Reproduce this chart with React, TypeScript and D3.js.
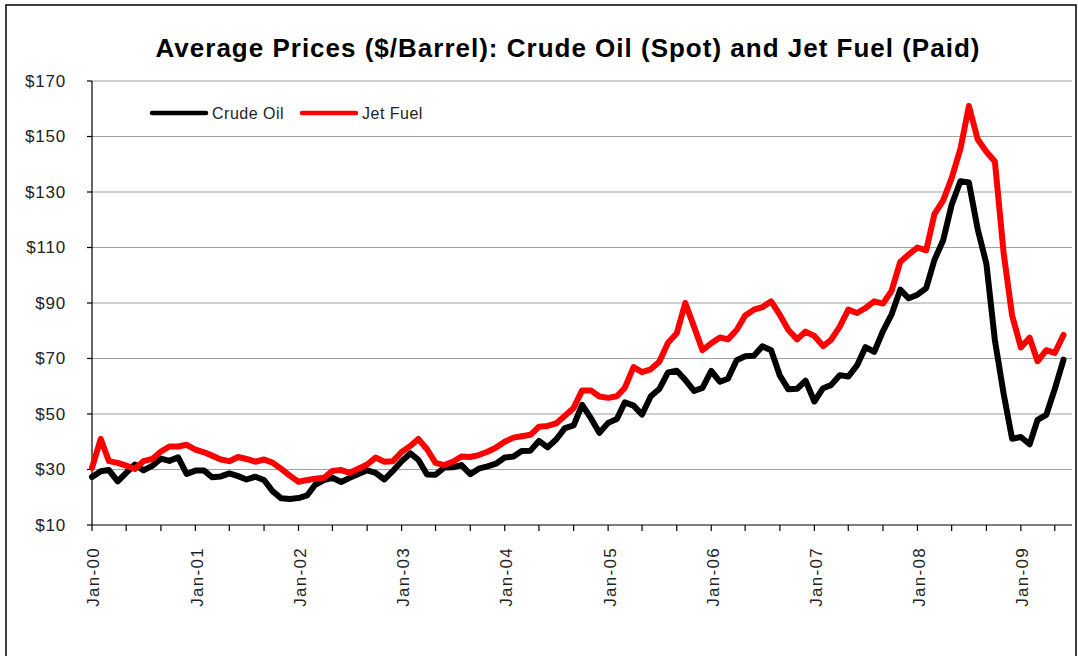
import React from 'react';
import * as d3 from 'd3';

// Monthly averages, Jan-2000 .. Jun-2009 ($/barrel)
const crudeOil = [
  27.3, 29.4, 29.8, 25.7, 28.8, 31.8, 29.7, 31.3, 33.9, 33.1, 34.4, 28.4,
  29.6, 29.6, 27.2, 27.5, 28.6, 27.6, 26.4, 27.4, 26.2, 22.2, 19.6, 19.4,
  19.7, 20.7, 24.5, 26.2, 27.0, 25.5, 27.0, 28.4, 29.7, 28.8, 26.4, 29.5,
  33.0, 35.8, 33.5, 28.2, 28.1, 30.7, 30.8, 31.6, 28.3, 30.3, 31.1, 32.1,
  34.3, 34.7, 36.7, 36.8, 40.3, 38.0, 40.8, 44.9, 45.9, 53.3, 48.5, 43.2,
  46.8, 48.2, 54.2, 53.0, 49.8, 56.4, 59.0, 65.0, 65.6, 62.3, 58.3, 59.4,
  65.5, 61.6, 62.7, 69.4, 70.8, 71.0, 74.4, 73.0, 63.8, 58.9, 59.1, 62.0,
  54.5, 59.3, 60.4, 64.0, 63.5, 67.5, 74.1, 72.4, 79.9, 85.8, 94.8, 91.7,
  93.0, 95.4, 105.5, 112.6, 125.4, 133.9, 133.4, 116.7, 104.1, 76.6, 57.3, 41.1,
  41.7, 39.1, 47.9, 49.7, 59.0, 69.6,
];

const jetFuel = [
  30.6, 41.0, 33.0, 32.4, 31.4, 30.2, 33.0, 33.8, 36.5, 38.3, 38.3, 38.9,
  37.2, 36.2, 35.0, 33.6, 33.0, 34.5, 33.8, 32.8, 33.6, 32.5, 30.2, 27.8,
  25.6, 26.2, 26.7, 27.0, 29.5, 29.8, 28.8, 30.3, 31.8, 34.3, 32.8, 33.0,
  36.3, 38.5, 41.0, 37.3, 32.4, 31.6, 32.8, 34.7, 34.5, 35.2, 36.4, 37.9,
  40.0, 41.5, 42.0, 42.5, 45.4, 45.7, 46.6, 49.4, 52.2, 58.5, 58.5, 56.3,
  55.8, 56.4, 59.4, 66.9, 65.1, 66.1, 68.8, 75.7, 79.1, 90.0, 81.5, 73.0,
  75.5, 77.6, 76.9, 80.3, 85.5, 87.6, 88.5, 90.6, 85.7, 80.3, 76.9, 79.7,
  78.1, 74.5, 76.7, 81.5, 87.6, 86.4, 88.2, 90.6, 89.8, 94.3, 104.8, 107.5,
  110.0, 109.0, 122.0, 127.0, 135.0, 145.5, 161.0, 149.0, 144.5, 141.0, 108.0, 85.5,
  74.0, 77.5, 69.0, 73.0, 72.0, 78.5,
];

const startYear = 2000;
const dates = crudeOil.map((_, i) => new Date(startYear, i, 1));
const yTicks = [10, 30, 50, 70, 90, 110, 130, 150, 170];
const seriesNames = ['Crude Oil', 'Jet Fuel'];
const seriesColors = ['#000000', '#ff0000'];
const title = 'Average Prices ($/Barrel): Crude Oil (Spot) and Jet Fuel (Paid)';

const FONT = '"Liberation Sans", Arial, sans-serif';

export default function App() {
  const W = 1078;
  const H = 656;
  const left = 92, right = 1072, top = 81, bottom = 525;

  const x = d3.scaleTime()
    .domain([new Date(startYear, 0, 1), new Date(2009, 6, 1)])
    .range([left, right]);
  const y = d3.scaleLinear().domain([10, 170]).range([bottom, top]);

  const monthTicks = d3.timeMonth.every(4)!.range(new Date(startYear, 0, 1), new Date(2009, 6, 1));
  const fmt = d3.timeFormat('%b-%y');

  const line = d3.line<number>()
    .x((_, i) => x(dates[i]))
    .y((d) => y(d));

  const series = [crudeOil, jetFuel];

  return (
    <svg width={W} height={H} style={{ position: 'absolute', left: 0, top: 0, background: '#fff' }}
      fontFamily={FONT}>
      <rect x={6} y={5} width={1070} height={H + 10} fill="#fff" stroke="#000" strokeWidth={1.5} />
      <text x={568} y={57} textAnchor="middle" fontSize={26} fontWeight="bold" letterSpacing={1}>{title}</text>

      {/* gridlines */}
      {yTicks.filter((t) => t !== 10).map((t) => (
        <line key={'g' + t} x1={left} x2={right} y1={y(t)} y2={y(t)} stroke="#a0a0a0" strokeWidth={1.2} />
      ))}

      {/* y axis */}
      <line x1={left} x2={left} y1={top} y2={bottom} stroke="#000" strokeWidth={1.2} />
      {yTicks.map((t) => (
        <g key={'y' + t}>
          <line x1={left - 5} x2={left} y1={y(t)} y2={y(t)} stroke="#000" strokeWidth={1.2} />
          <text x={66} y={y(t)} dy="0.35em" textAnchor="end" fontSize={17} letterSpacing={0.8} fill="#222">${t}</text>
        </g>
      ))}

      {/* x axis */}
      <line x1={left} x2={right} y1={bottom} y2={bottom} stroke="#000" strokeWidth={1.2} />
      {monthTicks.map((d) => (
        <g key={'x' + d.getTime()}>
          <line x1={x(d)} x2={x(d)} y1={bottom} y2={bottom + 6} stroke="#000" strokeWidth={1.2} />
          {d.getMonth() === 0 && (
            <text transform={`translate(${x(d) + 3},${bottom + 22}) rotate(-90)`} textAnchor="end"
              dominantBaseline="middle" fontSize={17} letterSpacing={1.3} fill="#222">{fmt(d)}</text>
          )}
        </g>
      ))}

      {/* series */}
      {series.map((s, k) => (
        <path key={'s' + k} d={line(s) || ''} fill="none" stroke={seriesColors[k]} strokeWidth={6}
          strokeLinejoin="round" strokeLinecap="round" />
      ))}

      {/* legend */}
      {seriesNames.map((n, k) => {
        const lx = [152, 302][k];
        return (
          <g key={'l' + k}>
            <line x1={lx} x2={lx + 54} y1={113} y2={113} stroke={seriesColors[k]} strokeWidth={4.5} strokeLinecap="round" />
            <text x={lx + 60} y={113} dy="0.35em" fontSize={16} letterSpacing={0.5} fill="#222">{n}</text>
          </g>
        );
      })}
    </svg>
  );
}
